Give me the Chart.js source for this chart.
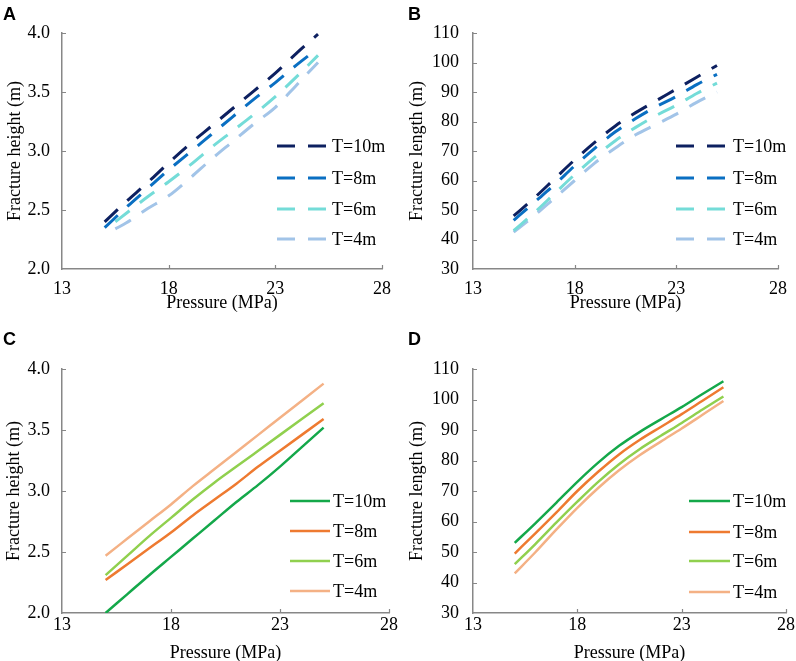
<!DOCTYPE html>
<html>
<head>
<meta charset="utf-8">
<script src="https://cdn.jsdelivr.net/npm/chart.js@4.4.0/dist/chart.umd.min.js"></script>
<style>
  body { margin: 0; background: #fff; width: 796px; height: 661px; position: relative; overflow: hidden; }
  .panel { position: absolute; }
  .letter { position: absolute; font: bold 18px "Liberation Sans", Arial, sans-serif; line-height: 18px; color: #000; }
</style>
</head>
<body>
<div class="panel" style="left:0;top:0;"><canvas id="chartA" width="400" height="330"></canvas></div>
<div class="panel" style="left:400px;top:0;"><canvas id="chartB" width="396" height="330"></canvas></div>
<div class="panel" style="left:0;top:330px;"><canvas id="chartC" width="400" height="331"></canvas></div>
<div class="panel" style="left:400px;top:330px;"><canvas id="chartD" width="396" height="331"></canvas></div>
<div class="letter" style="left:3px;top:5px;">A</div>
<div class="letter" style="left:408px;top:5px;">B</div>
<div class="letter" style="left:3px;top:330px;">C</div>
<div class="letter" style="left:408px;top:330px;">D</div>

<script>
// pressure values (MPa)
var pressure = [15, 16, 17, 18, 19, 20, 21, 22, 23, 24, 25];
var pressureLate = [15.5, 16, 17, 18, 19, 20, 21, 22, 23, 24, 25];
var seriesLabels = ['T=10m', 'T=8m', 'T=6m', 'T=4m'];

// A - fracture height, dashed
var heightA10 = [2.40, 2.57, 2.73, 2.90, 3.06, 3.21, 3.36, 3.51, 3.66, 3.83, 3.99];
var heightA8 = [2.35, 2.52, 2.68, 2.84, 2.99, 3.14, 3.29, 3.44, 3.58, 3.73, 3.87];
var heightA6 = [2.40, 2.47, 2.61, 2.74, 2.88, 3.03, 3.17, 3.31, 3.46, 3.63, 3.81];
var heightA4 = [2.34, 2.39, 2.51, 2.62, 2.77, 2.93, 3.08, 3.23, 3.37, 3.56, 3.75];

// B - fracture length, dashed
var lengthB10 = [48, 54, 60.5, 67, 73, 78.5, 83, 87, 91, 95, 99];
var lengthB8 = [46.5, 52.5, 58.5, 65, 71, 76.5, 81, 85, 88.5, 92.5, 96];
var lengthB6 = [43, 49, 55.5, 62, 68, 73.5, 78, 82, 85.5, 89.5, 93];
var lengthB4 = [42.5, 48, 54, 60, 66, 71, 75.5, 79, 82.5, 86.5, 90];

// C - fracture height, solid
var heightC10 = [2.00, 2.155, 2.31, 2.46, 2.61, 2.76, 2.91, 3.05, 3.20, 3.36, 3.52];
var heightC8 = [2.27, 2.40, 2.53, 2.66, 2.80, 2.93, 3.06, 3.20, 3.33, 3.46, 3.59];
var heightC6 = [2.31, 2.47, 2.63, 2.78, 2.93, 3.07, 3.20, 3.33, 3.46, 3.59, 3.72];
var heightC4 = [2.47, 2.61, 2.75, 2.89, 3.04, 3.18, 3.32, 3.46, 3.60, 3.74, 3.88];

// D - fracture length, solid
var lengthD10 = [53, 59.5, 66.2, 73, 79.3, 84.8, 89.4, 93.5, 97.5, 101.8, 106];
var lengthD8 = [49.5, 56.2, 63, 70, 76.3, 82, 86.8, 91, 95.2, 99.6, 104];
var lengthD6 = [46, 52.7, 59.7, 66.5, 73, 78.8, 83.8, 88.1, 92.3, 96.7, 101];
var lengthD4 = [43, 50, 57.4, 64.5, 71, 76.8, 81.8, 86.2, 90.5, 95, 99.5];

var blueColors = ['#0d2060', '#0a6fc2', '#74dcd8', '#a2c4e8'];
var warmColors = ['#14a84a', '#ee7a30', '#90d04e', '#f4b185'];

var serif = '"Liberation Serif", "Times New Roman", serif';
var axisColor = '#878787';

function toPoints(xs, ys) {
    return ys.map(function (y, i) { return { x: xs[i], y: y }; });
}

// draws the little inward tick marks and the legend inside the plot
var panelExtras = {
    id: 'panelExtras',
    afterDraw: function (chart) {
        var ctx = chart.ctx;
        var area = chart.chartArea;
        var xs = chart.scales.x, ys = chart.scales.y;
        ctx.save();
        ctx.strokeStyle = axisColor;
        ctx.lineWidth = 1.2;
        ctx.beginPath();
        xs.ticks.forEach(function (t, i) {
            if (i === 0) return;
            var px = Math.round(xs.getPixelForValue(t.value)) + 0.5;
            ctx.moveTo(px, area.bottom);
            ctx.lineTo(px, area.bottom - 4);
        });
        ys.ticks.forEach(function (t, i) {
            if (i === 0) return;
            var py = Math.round(ys.getPixelForValue(t.value)) + 0.5;
            ctx.moveTo(area.left, py);
            ctx.lineTo(area.left + 4, py);
        });
        ctx.stroke();

        // legend
        var lg = chart.options.plugins.panelExtras;
        chart.data.datasets.forEach(function (ds, i) {
            var y = lg.rows[i];
            ctx.strokeStyle = ds.borderColor;
            ctx.lineWidth = ds.borderWidth;
            ctx.setLineDash(ds.borderDash || []);
            ctx.beginPath();
            ctx.moveTo(lg.x1, y);
            ctx.lineTo(lg.x2, y);
            ctx.stroke();
            ctx.setLineDash([]);
            ctx.fillStyle = '#000';
            ctx.font = '18px ' + serif;
            ctx.textBaseline = 'middle';
            ctx.textAlign = 'left';
            ctx.fillText(ds.label, lg.textX, y + 1);
        });
        ctx.restore();
    }
};

function makePanel(id, p) {
    var canvas = document.getElementById(id);
    var W = canvas.width, H = canvas.height;
    var datasets = p.series.map(function (s, i) {
        return {
            label: seriesLabels[i],
            data: toPoints(s.x, s.y),
            borderColor: p.colors[i],
            borderWidth: p.dashed ? 3 : 2.5,
            borderDash: p.dashed ? [18, 13] : [],
            pointRadius: 0,
            cubicInterpolationMode: 'monotone',
            fill: false
        };
    });

    new Chart(canvas.getContext('2d'), {
        type: 'line',
        data: { datasets: datasets },
        options: {
            responsive: false,
            animation: false,
            layout: { padding: { top: p.area.top, right: W - p.area.right, left: 0, bottom: 0 } },
            plugins: {
                legend: { display: false },
                tooltip: { enabled: false },
                panelExtras: p.legend
            },
            scales: {
                x: {
                    type: 'linear',
                    min: 13, max: 28,
                    afterFit: function (s) { s.height = H - p.area.bottom; },
                    ticks: { stepSize: 5, color: '#000', padding: p.xTickPad, font: { family: serif, size: 18 } },
                    grid: { display: false, drawTicks: false },
                    border: { display: true, color: axisColor, width: 1.5 },
                    title: {
                        display: true, text: 'Pressure (MPa)', color: '#000',
                        font: { family: serif, size: 18 },
                        padding: { top: 0, bottom: p.xTitlePad }
                    }
                },
                y: {
                    type: 'linear',
                    min: p.yMin, max: p.yMax,
                    afterFit: function (s) { s.width = p.area.left; },
                    ticks: {
                        stepSize: p.yStep, color: '#000', padding: p.yTickPad,
                        font: { family: serif, size: 18 },
                        callback: function (v) { return p.yDigits ? v.toFixed(p.yDigits) : v; }
                    },
                    grid: { display: false, drawTicks: false },
                    border: { display: true, color: axisColor, width: 1.5 },
                    title: {
                        display: true, text: p.yTitle, color: '#000',
                        font: { family: serif, size: 18 },
                        padding: { top: p.yTitlePad, bottom: 0 }
                    }
                }
            }
        },
        plugins: [panelExtras]
    });
}

makePanel('chartA', {
    area: { left: 62, right: 387, top: 33, bottom: 269 },
    series: [
        { x: pressure, y: heightA10 }, { x: pressure, y: heightA8 },
        { x: pressureLate, y: heightA6 }, { x: pressureLate, y: heightA4 }
    ],
    colors: blueColors, dashed: true,
    yMin: 2, yMax: 4, yStep: 0.5, yDigits: 1, yTitle: 'Fracture height (m)',
    xTickPad: 9, xTitlePad: 16, yTickPad: 12, yTitlePad: 4,
    legend: { x1: 277, x2: 327, textX: 332, rows: [146, 178, 209, 239] }
});

makePanel('chartB', {
    area: { left: 73, right: 386, top: 33, bottom: 269 },
    series: [
        { x: pressure, y: lengthB10 }, { x: pressure, y: lengthB8 },
        { x: pressure, y: lengthB6 }, { x: pressure, y: lengthB4 }
    ],
    colors: blueColors, dashed: true,
    yMin: 30, yMax: 110, yStep: 10, yDigits: 0, yTitle: 'Fracture length (m)',
    xTickPad: 9, xTitlePad: 16, yTickPad: 14, yTitlePad: 6,
    legend: { x1: 276, x2: 326, textX: 333, rows: [146, 178, 209, 239] }
});

makePanel('chartC', {
    area: { left: 62, right: 389, top: 39, bottom: 283 },
    series: [
        { x: pressure, y: heightC10 }, { x: pressure, y: heightC8 },
        { x: pressure, y: heightC6 }, { x: pressure, y: heightC4 }
    ],
    colors: warmColors, dashed: false,
    yMin: 2, yMax: 4, yStep: 0.5, yDigits: 1, yTitle: 'Fracture height (m)',
    xTickPad: 1, xTitlePad: -3, yTickPad: 12, yTitlePad: 3,
    legend: { x1: 290, x2: 330, textX: 333, rows: [171, 201, 231, 261] }
});

makePanel('chartD', {
    area: { left: 73, right: 386, top: 39, bottom: 283 },
    series: [
        { x: pressure, y: lengthD10 }, { x: pressure, y: lengthD8 },
        { x: pressure, y: lengthD6 }, { x: pressure, y: lengthD4 }
    ],
    colors: warmColors, dashed: false,
    yMin: 30, yMax: 110, yStep: 10, yDigits: 0, yTitle: 'Fracture length (m)',
    xTickPad: 1, xTitlePad: -3, yTickPad: 14, yTitlePad: 6,
    legend: { x1: 289, x2: 330, textX: 333, rows: [171, 202, 231, 262] }
});
</script>
</body>
</html>
